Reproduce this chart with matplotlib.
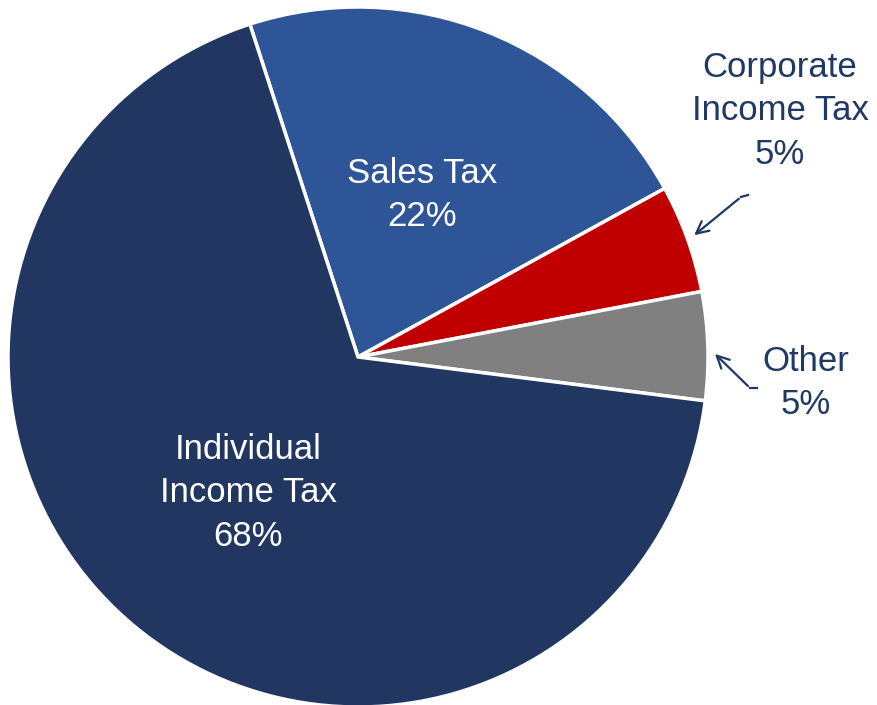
import matplotlib.pyplot as plt

# slice data (clockwise from top)
labels = ["Sales Tax", "Corporate\nIncome Tax", "Other", "Individual\nIncome Tax"]
shares = [22, 5, 5, 68]
colors = ["#2E5597", "#C00000", "#808080", "#213761"]

plt.rcParams['font.family'] = ['Liberation Sans Narrow', 'Liberation Sans', 'DejaVu Sans']

fig = plt.figure(figsize=(8.77, 7.05), dpi=100)
ax = fig.add_axes([0, 0, 1, 1])

wedges, _ = ax.pie(shares, colors=colors, startangle=108, counterclock=False,
                   center=(358, 348), radius=350,
                   wedgeprops=dict(edgecolor='white', linewidth=2.5))
# pie() resets limits, so set them afterwards
ax.set_xlim(0, 877)
ax.set_ylim(0, 705)
ax.set_aspect('equal')
ax.axis('off')

navy = "#1F3864"
fs = 25
ax.text(422, 510, f"{labels[0]}\n{shares[0]}%", ha='center', va='center',
        color='white', fontsize=fs, linespacing=1.4)
ax.text(248, 212, f"{labels[3]}\n{shares[3]}%", ha='center', va='center',
        color='white', fontsize=fs, linespacing=1.4)
ax.text(780, 594, f"{labels[1]}\n{shares[1]}%", ha='center', va='center',
        color=navy, fontsize=fs, linespacing=1.4)
ax.text(806, 322, f"{labels[2]}\n{shares[2]}%", ha='center', va='center',
        color=navy, fontsize=fs, linespacing=1.4)

# leader arrows
ax.plot([748, 741], [510, 508], color=navy, lw=1.6)
ax.annotate("", xy=(692, 468), xytext=(741, 508),
            arrowprops=dict(arrowstyle='->', color=navy, lw=1.6, mutation_scale=22))
ax.plot([757, 750], [317, 317], color=navy, lw=1.6)
ax.annotate("", xy=(713, 353), xytext=(750, 317),
            arrowprops=dict(arrowstyle='->', color=navy, lw=1.6, mutation_scale=22))

fig.savefig("out.png", dpi=100, facecolor='white')
